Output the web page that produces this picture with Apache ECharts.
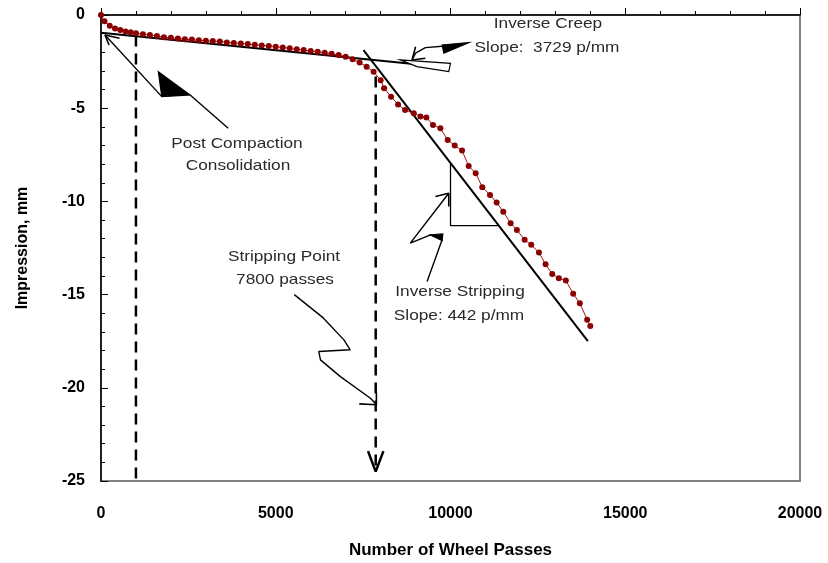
<!DOCTYPE html>
<html>
<head>
  <meta charset="utf-8">
  <title>wheel-tracking</title>
  <script src="https://cdn.jsdelivr.net/npm/echarts@6/dist/echarts.min.js"></script>
</head>
<body style="height: 100%; margin: 0; background: #fff">
<div id="main" style="width: 828px; height: 563px"></div>

<script type="text/javascript">
  // measured impression vs wheel passes
  var passes = [0, 100, 250, 400, 550, 700, 850, 1000, 1200, 1400, 1600, 1800, 2000, 2200, 2400, 2600,
    2800, 3000, 3200, 3400, 3600, 3800, 4000, 4200, 4400, 4600, 4800, 5000, 5200, 5400, 5600, 5800,
    6000, 6200, 6400, 6600, 6800, 7000, 7200, 7400, 7600, 7800, 8000, 8100, 8300, 8500, 8700, 8950,
    9140, 9310, 9500, 9710, 9920, 10120, 10330, 10520, 10720, 10910, 11130, 11320, 11510, 11720,
    11900, 12120, 12310, 12530, 12720, 12910, 13100, 13300, 13510, 13700, 13910, 14000];
  var impression = [0, -0.34, -0.58, -0.72, -0.8, -0.88, -0.93, -0.98, -1.03, -1.07, -1.13, -1.19,
    -1.22, -1.26, -1.3, -1.32, -1.36, -1.38, -1.4, -1.42, -1.47, -1.5, -1.53, -1.56, -1.6, -1.63,
    -1.66, -1.7, -1.74, -1.79, -1.84, -1.88, -1.93, -1.97, -2.03, -2.08, -2.15, -2.24, -2.38, -2.55,
    -2.78, -3.05, -3.5, -3.93, -4.38, -4.8, -5.1, -5.27, -5.45, -5.5, -5.9, -6.08, -6.7, -7.0, -7.27,
    -8.1, -8.49, -9.24, -9.65, -10.06, -10.55, -11.17, -11.53, -12.06, -12.33, -12.74, -13.37, -13.9,
    -14.12, -14.24, -14.96, -15.46, -16.35, -16.68];

  var xTicks = [0, 5000, 10000, 15000, 20000];
  var yTicks = [0, -5, -10, -15, -20, -25];

  // fitted lines
  var creepLine = [[0, -0.95], [9950, -2.82]];
  var strippingLine = [[7510, -1.88], [13930, -17.5]];
  var slopeTriangle = [[10000, -7.95], [10000, -11.3], [11380, -11.3]];

  // dashed markers
  var compactionMark = [[1000, -1.1], [1000, -25]];
  var strippingMark = [[7860, -3.3], [7860, -24.4]];
  var strippingHead = [[7640, -23.4], [7860, -24.5], [8080, -23.4]];

  // annotation arrows
  var postArrow = [[3640, -6.08], [2550, -4.29]];
  var postArrow2 = [[1740, -4.38], [115, -1.07]];
  var postHead = [[530, -1.25], [115, -1.07], [230, -1.61]];
  var creepArrow = [[9760, -1.68], [9280, -1.75], [9000, -2.05], [8900, -2.41]];
  var creepHead = [[9000, -1.7], [8900, -2.41], [9280, -2.32]];
  var stripArrow = [[9330, -14.3], [9760, -12.06], [9430, -11.8], [8850, -12.24], [9950, -9.56]];
  var stripHead = [[9570, -9.74], [9950, -9.56], [9950, -10.28]];
  var pointArrow = [[5530, -15.0], [6360, -16.25], [6950, -17.43], [7130, -17.96], [6230, -18.05],
    [6280, -18.5], [6850, -19.4], [7710, -20.56], [7880, -20.91]];
  var pointHead = [[7390, -20.86], [7880, -20.91], [7880, -20.27]];

  // filled wedges and outlined tail
  var polys = [
    {pts: [[1640, -3.04], [2550, -4.29], [1740, -4.38]], fill: '#000'},
    {pts: [[10520, -1.48], [9760, -1.61], [9810, -2.05]], fill: '#000'},
    {pts: [[9430, -11.8], [9780, -11.75], [9760, -12.1]], fill: '#000'},
    {pts: [[8560, -2.41], [10000, -2.59], [9950, -3.04], [9040, -2.77]], fill: '#fff'}
  ];

  var font = "'Liberation Sans', Arial, sans-serif";

  function path(data, width, type, z) {
    return {
      type: 'line', data: data, symbol: 'none', silent: true, z: z || 3,
      lineStyle: {color: '#000', width: width, type: type || 'solid'}
    };
  }

  var series = [
    path(compactionMark, 2.5, [11, 7], 2),
    path(strippingMark, 2.5, [11, 7], 2),
    path(strippingHead, 2.5),
    path(creepLine, 2),
    path(strippingLine, 2),
    path(slopeTriangle, 1.3),
    path(postArrow, 1.4), path(postArrow2, 1.4), path(postHead, 1.6),
    path(creepArrow, 1.4), path(creepHead, 1.6),
    path(stripArrow, 1.4), path(stripHead, 1.6),
    path(pointArrow, 1.4), path(pointHead, 1.6),
    {
      type: 'custom', silent: true, z: 4,
      data: polys.map(function (p) { return p.pts[0]; }),
      renderItem: function (params, api) {
        var p = polys[params.dataIndex];
        return {
          type: 'polygon',
          shape: {points: p.pts.map(function (pt) { return api.coord(pt); })},
          style: {fill: p.fill, stroke: '#000', lineWidth: 1.2}
        };
      }
    },
    {
      type: 'line', z: 6,
      data: passes.map(function (x, i) { return [x, impression[i]]; }),
      symbol: 'circle', symbolSize: 6,
      itemStyle: {color: '#8b0000'},
      lineStyle: {color: '#a01818', width: 1}
    }
  ];

  function txt(s, x, y) {
    return {
      type: 'text', x: x, y: y, scaleX: 1.15, z: 100,
      style: {text: s, font: '15px ' + font, fill: '#2a2a2a', align: 'center', verticalAlign: 'middle'}
    };
  }

  var chart = echarts.init(document.getElementById('main'));
  chart.setOption({
    animation: false,
    grid: {left: 101, right: 28, top: 15, bottom: 82, show: true, borderColor: '#808080', borderWidth: 2,
      outerBoundsMode: 'none'},
    xAxis: {
      type: 'value', min: xTicks[0], max: xTicks[xTicks.length - 1], interval: 5000,
      name: 'Number of Wheel Passes', nameLocation: 'middle', nameGap: 61,
      nameTextStyle: {fontFamily: font, fontWeight: 'bold', fontSize: 17, color: '#000'},
      axisLine: {lineStyle: {color: '#000', width: 1.5}},
      axisTick: {inside: true, length: 7, lineStyle: {color: '#000'}},
      minorTick: {show: true, splitNumber: 5, length: 4, lineStyle: {color: '#000'}},
      axisLabel: {fontFamily: font, fontWeight: 'bold', fontSize: 16, color: '#000', margin: 25,
        formatter: function (v) { return String(v); }},
      splitLine: {show: false}
    },
    yAxis: {
      type: 'value', min: yTicks[yTicks.length - 1], max: yTicks[0], interval: 5,
      name: 'Impression, mm', nameLocation: 'middle', nameGap: 70,
      nameTextStyle: {fontFamily: font, fontWeight: 'bold', fontSize: 16, color: '#000'},
      axisLine: {lineStyle: {color: '#000', width: 1.5}},
      axisTick: {inside: true, length: 7, lineStyle: {color: '#000'}},
      minorTick: {show: true, splitNumber: 5, length: 4, lineStyle: {color: '#000'}},
      axisLabel: {fontFamily: font, fontWeight: 'bold', fontSize: 16, color: '#000', margin: 16,
        formatter: function (v) { return String(v); }},
      splitLine: {show: false}
    },
    graphic: [
      txt('Inverse Creep', 548, 24),
      txt('Slope:  3729 p/mm', 547, 48),
      txt('Post Compaction', 237, 144),
      txt('Consolidation', 238, 166),
      txt('Stripping Point', 284, 257),
      txt('7800 passes', 285, 280),
      txt('Inverse Stripping', 460, 292),
      txt('Slope: 442 p/mm', 459, 316)
    ],
    series: series
  });
</script>
</body>
</html>
